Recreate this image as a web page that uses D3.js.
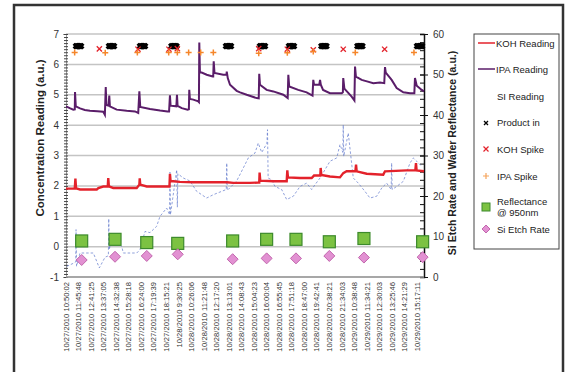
<!DOCTYPE html>
<html>
<head>
<meta charset="utf-8">
<script src="https://cdn.jsdelivr.net/npm/d3@7"></script>
<style>
  body { margin: 0; background: #fff; }
  svg text { font-family: Arial, "Liberation Sans", sans-serif; }
</style>
</head>
<body>
<div id="chart"></div>
<script>
// ─── Daten ────────────────────────────────────────────────────────────────────

const timeLabels = [
  '10/27/2010 10:50:02', '10/27/2010 11:45:48', '10/27/2010 12:41:25',
  '10/27/2010 13:37:05', '10/27/2010 14:32:38', '10/27/2010 15:28:18',
  '10/27/2010 16:24:00', '10/27/2010 17:19:39', '10/27/2010 18:15:21',
  '10/28/2010 9:30:25',  '10/28/2010 10:26:06', '10/28/2010 11:21:48',
  '10/28/2010 12:17:20', '10/28/2010 13:13:01', '10/28/2010 14:08:43',
  '10/28/2010 15:04:23', '10/28/2010 16:00:04', '10/28/2010 16:55:45',
  '10/28/2010 17:51:18', '10/28/2010 18:47:00', '10/28/2010 19:42:41',
  '10/28/2010 20:38:21', '10/28/2010 21:34:03', '10/29/2010 10:38:48',
  '10/29/2010 11:34:21', '10/29/2010 12:30:03', '10/29/2010 13:25:46',
  '10/29/2010 14:21:29', '10/29/2010 15:17:11'
];

// [zeitindex, wert] – Zeitindex in Einheiten der Achsenbeschriftung
const kohReading = [
  [0, 1.91], [0.70, 1.91], [0.75, 2.24], [0.80, 1.92], [1.12, 1.88], [2.45, 1.88],
  [2.58, 1.93], [2.97, 1.98], [3.33, 1.98], [3.37, 2.26], [3.42, 1.98], [3.77, 1.93],
  [5.64, 1.93], [5.85, 2.04], [5.88, 2.25], [5.92, 2.04], [6.44, 1.98], [8.25, 1.98],
  [8.29, 2.40], [8.34, 2.15], [8.56, 2.15], [9.09, 2.13], [10.13, 2.12], [12.84, 2.12],
  [13.34, 2.10], [14.67, 2.10], [15.33, 2.11], [15.41, 2.11], [15.44, 2.44], [15.49, 2.17],
  [16.53, 2.15], [17.60, 2.15], [17.65, 2.51], [17.70, 2.28], [18.66, 2.26], [19.59, 2.26],
  [19.78, 2.34], [20.28, 2.34], [20.31, 2.59], [20.36, 2.36], [21.05, 2.31], [21.85, 2.28],
  [22.11, 2.42], [22.38, 2.48], [23.08, 2.48], [23.13, 2.70], [23.18, 2.48], [23.98, 2.40],
  [25.30, 2.37], [25.44, 2.48], [27.17, 2.51], [27.86, 2.51], [27.91, 2.75], [27.96, 2.51],
  [28.55, 2.48]
];

const ipaReading = [
  [0, 4.62], [0.30, 4.56], [0.58, 4.51], [0.70, 4.52], [0.72, 5.09], [0.78, 4.62],
  [1.12, 4.55], [1.50, 4.50], [1.91, 4.47], [2.50, 4.46], [2.97, 4.44], [3.10, 4.34],
  [3.17, 5.25], [3.22, 4.66], [3.40, 4.64], [3.45, 4.97], [3.50, 4.62], [4.04, 4.51],
  [4.84, 4.47], [5.50, 4.45], [5.76, 4.40], [5.85, 5.11], [5.92, 4.60], [6.70, 4.53],
  [7.50, 4.48], [8.10, 4.45], [8.22, 4.45], [8.29, 4.98], [8.34, 4.64], [8.80, 4.62],
  [8.85, 5.00], [8.90, 4.63], [9.23, 4.56], [9.70, 4.51], [9.80, 4.52], [9.83, 5.16],
  [9.88, 4.86], [10.15, 4.84], [10.55, 4.78], [10.60, 4.76], [10.63, 6.72], [10.68, 5.73],
  [10.82, 5.73], [11.22, 5.66], [11.70, 5.60], [11.74, 5.60], [11.78, 6.10], [11.84, 5.72],
  [12.54, 5.66], [12.80, 5.66], [12.82, 5.76], [12.90, 5.55], [13.08, 5.33], [13.61, 5.13],
  [13.88, 5.08], [14.41, 5.00], [15.21, 4.89], [15.37, 4.88], [15.41, 5.69], [15.47, 5.33],
  [16.00, 5.16], [16.53, 5.11], [17.33, 5.00], [17.68, 4.89], [17.73, 5.66], [17.80, 5.27],
  [18.52, 5.16], [19.19, 5.08], [19.66, 4.97], [19.72, 5.49], [19.78, 5.33], [20.20, 5.33],
  [20.26, 5.49], [20.32, 5.33], [20.50, 5.16], [21.05, 5.05], [21.99, 5.05], [22.08, 5.08],
  [22.11, 5.55], [22.20, 5.20], [22.78, 4.94], [23.00, 4.81], [23.05, 5.93], [23.12, 5.60],
  [23.58, 5.49], [24.00, 5.44], [24.51, 5.38], [25.04, 5.40], [25.38, 5.38], [25.44, 5.91],
  [25.50, 5.73], [25.97, 5.49], [26.37, 5.22], [26.90, 5.08], [27.43, 5.05], [27.78, 5.05],
  [27.83, 5.55], [27.97, 5.30], [28.37, 5.16], [28.55, 5.11]
];

const siReading = [
  [0.06, -0.65], [0.58, -0.55], [0.78, -0.50], [0.80, 0.56], [0.84, -0.65], [1.12, -0.21],
  [2.18, -0.21], [2.66, -0.70], [3.11, -0.35], [3.38, -0.30], [3.41, 0.92], [3.45, -0.10],
  [3.64, 0.30], [4.44, 0.01], [4.57, -0.21], [5.64, -0.21], [5.90, -0.10], [6.30, 0.50],
  [6.70, 0.46], [7.23, 0.67], [7.50, 1.00], [8.03, 1.27], [8.26, 1.05], [8.29, 2.45],
  [8.33, 1.05], [8.83, 2.53], [8.88, 1.30], [8.92, 2.40], [9.35, 2.26], [9.89, 2.16],
  [10.42, 1.82], [11.22, 1.60], [11.75, 1.71], [12.78, 1.88], [12.82, 2.75], [12.86, 1.85],
  [13.61, 2.16], [14.14, 2.59], [14.54, 2.92], [15.07, 3.08], [15.33, 3.41], [15.61, 3.10],
  [16.02, 3.40], [16.07, 3.85], [16.12, 2.26], [16.40, 2.20], [16.67, 1.98], [17.20, 1.88],
  [17.60, 1.55], [18.13, 1.66], [18.66, 1.98], [19.19, 2.09], [19.59, 1.88], [19.86, 2.04],
  [20.26, 2.26], [20.65, 2.53], [21.05, 2.81], [21.59, 2.92], [21.85, 3.36], [22.08, 3.10],
  [22.11, 4.01], [22.15, 2.97], [22.51, 3.74], [22.91, 2.26], [23.31, 2.09], [23.84, 1.82],
  [24.24, 1.60], [24.78, 1.66], [25.18, 1.93], [25.57, 2.09], [25.93, 1.88], [25.97, 2.75],
  [26.01, 1.88], [26.37, 1.98], [26.90, 2.15], [27.43, 2.75], [27.70, 2.92], [27.97, 2.81],
  [28.37, 2.64]
];

const productInTimes = [
  0.80, 0.90, 1.00, 1.10, 1.20,
  3.43, 3.53, 3.63, 3.73, 3.83,
  5.90, 6.00, 6.10, 6.20, 6.30,
  8.41, 8.51, 8.61, 8.71, 8.81,
  12.76, 12.86, 12.96, 13.06, 13.16,
  15.47, 15.57, 15.67, 15.77, 15.87,
  17.78, 17.88, 17.98, 18.08, 18.18,
  20.37, 20.47, 20.57, 20.67, 20.77,
  23.24, 23.34, 23.44, 23.54, 23.64,
  27.99, 28.09, 28.19, 28.29, 28.39
];
const productInLevel = 6.6;

const kohSpikeTimes  = [2.66, 5.74, 8.21, 8.88, 15.37, 17.65, 19.72, 22.11, 25.41];
const kohSpikeLevels = [6.51, 6.50, 6.50, 6.52, 6.52, 6.50, 6.48, 6.50, 6.50];

const ipaSpikeTimes  = [0.69, 3.13, 5.69, 8.19, 8.88, 9.78, 10.74, 11.75, 15.37, 17.65, 19.72, 23.07, 27.75];
const ipaSpikeLevels = [6.39, 6.38, 6.39, 6.39, 6.39, 6.39, 6.39, 6.39, 6.37, 6.38, 6.42, 6.39, 6.39];

const sampleTimes  = [1.25, 3.91, 6.44, 8.91, 13.29, 16.00, 18.34, 21.00, 23.76, 28.44];
const reflectance  = [8.9, 9.3, 8.5, 8.3, 8.9, 9.3, 9.3, 8.7, 9.5, 8.7];
const siEtchRate   = [4.2, 5.0, 5.2, 5.6, 4.4, 4.6, 4.6, 5.2, 4.8, 4.9];

const leftTicks  = [-1, 0, 1, 2, 3, 4, 5, 6, 7];
const rightTicks = [0, 10, 20, 30, 40, 50, 60];

// ─── Aufbau ───────────────────────────────────────────────────────────────────

const W = 568, H = 372;
const plot = { left: 66, right: 424, top: 34, bottom: 277 };

const svg = d3.select('#chart').append('svg')
  .attr('width', W).attr('height', H);

svg.append('rect')
  .attr('x', 14).attr('y', 5).attr('width', 549).attr('height', 380)
  .attr('fill', '#fff').attr('stroke', '#333').attr('stroke-width', 2.5);

const x = d3.scaleLinear().domain([0, 28.55]).range([plot.left, plot.right]);
const yL = d3.scaleLinear().domain([-1, 7]).range([plot.bottom, plot.top]);
const yR = d3.scaleLinear().domain([0, 60]).range([plot.bottom, plot.top]);

// Gitterlinien
svg.append('g').selectAll('line')
  .data(leftTicks)
  .join('line')
  .attr('x1', plot.left).attr('x2', plot.right)
  .attr('y1', d => yL(d)).attr('y2', d => yL(d))
  .attr('stroke', '#c4c4c4').attr('stroke-width', 1.5);

// linke Achse
const leftAxis = svg.append('g')
  .attr('transform', `translate(${plot.left},0)`)
  .call(d3.axisLeft(yL).tickValues(d3.range(-10, 71).map(d => d / 10)).tickSize(3).tickFormat(''));
leftAxis.select('.domain').attr('stroke', '#999');
leftAxis.selectAll('.tick line').attr('stroke', '#444').attr('x2', 2).attr('x1', -2);

svg.append('g').selectAll('text')
  .data(leftTicks)
  .join('text')
  .attr('x', 59).attr('y', d => yL(d) + 3.5)
  .attr('text-anchor', 'end')
  .attr('font-size', 10).attr('fill', '#333')
  .text(d => d);

// rechte Achse
const rightMinor = svg.append('g')
  .attr('transform', `translate(${plot.right},0)`)
  .call(d3.axisLeft(yR).tickValues(d3.range(0, 61, 2)).tickSize(4).tickFormat(''));
rightMinor.select('.domain').attr('stroke', '#111').attr('stroke-width', 1.5);
rightMinor.selectAll('.tick line').attr('stroke', '#111');

const rightAxis = svg.append('g')
  .attr('transform', `translate(${plot.right},0)`)
  .call(d3.axisRight(yR).tickValues(rightTicks).tickSize(4).tickPadding(5));
rightAxis.select('.domain').remove();
rightAxis.selectAll('.tick line').attr('stroke', '#111').attr('x1', -4);
rightAxis.selectAll('.tick text')
  .attr('font-size', 10).attr('fill', '#333')
  .attr('font-family', 'Arial, "Liberation Sans", sans-serif');

// x-Achse
svg.append('line')
  .attr('x1', plot.left).attr('x2', plot.right)
  .attr('y1', plot.bottom).attr('y2', plot.bottom)
  .attr('stroke', '#999').attr('stroke-width', 1.5);

svg.append('g').selectAll('text')
  .data(timeLabels)
  .join('text')
  .attr('transform', (d, i) => `translate(${x(i) + 2.7},${plot.bottom + 5}) rotate(-90)`)
  .attr('text-anchor', 'end')
  .attr('font-size', 7.6).attr('fill', '#333')
  .text(d => d);

// Achsentitel
svg.append('text')
  .attr('transform', `translate(44,${138}) rotate(-90)`)
  .attr('text-anchor', 'middle')
  .attr('font-size', 11.5).attr('font-weight', 'bold').attr('fill', '#222')
  .text('Concentration Reading (a.u.)');

svg.append('text')
  .attr('transform', `translate(456,${153}) rotate(-90)`)
  .attr('text-anchor', 'middle')
  .attr('font-size', 10.5).attr('font-weight', 'bold').attr('fill', '#222')
  .text('Si Etch Rate and Wafer Reflectance (a.u.)');

// ─── Serien ───────────────────────────────────────────────────────────────────

svg.append('clipPath').attr('id', 'clip')
  .append('rect')
  .attr('x', plot.left).attr('y', plot.top - 4)
  .attr('width', plot.right - plot.left + 2).attr('height', plot.bottom - plot.top + 4);

const series = svg.append('g').attr('clip-path', 'url(#clip)');
const line = d3.line().x(d => x(d[0])).y(d => yL(d[1]));

series.append('path')
  .datum(siReading)
  .attr('d', line)
  .attr('fill', 'none').attr('stroke', '#5f78cc').attr('stroke-opacity', 0.7)
  .attr('stroke-width', 1).attr('stroke-dasharray', '2.5,2');

series.append('path')
  .datum(kohReading)
  .attr('d', line)
  .attr('fill', 'none').attr('stroke', '#e3222b').attr('stroke-width', 2.4);

series.append('path')
  .datum(ipaReading)
  .attr('d', line)
  .attr('fill', 'none').attr('stroke', '#5a1d69').attr('stroke-width', 2);

const xMark = (g, cx, cy, s) => g.append('path')
  .attr('d', `M${cx - s},${cy - s}L${cx + s},${cy + s}M${cx - s},${cy + s}L${cx + s},${cy - s}`);
const plusMark = (g, cx, cy, s) => g.append('path')
  .attr('d', `M${cx - s},${cy}L${cx + s},${cy}M${cx},${cy - s}L${cx},${cy + s}`);

const prodG = svg.append('g').attr('stroke', '#000').attr('stroke-width', 3).attr('fill', 'none');
productInTimes.forEach(t => xMark(prodG, x(t), yL(productInLevel), 2.4));

const kohG = svg.append('g').attr('stroke', '#e3222b').attr('stroke-width', 1.3).attr('fill', 'none');
kohSpikeTimes.forEach((t, i) => xMark(kohG, x(t), yL(kohSpikeLevels[i]), 2.6));

const ipaG = svg.append('g').attr('stroke', '#f5862a').attr('stroke-width', 1.5).attr('fill', 'none');
ipaSpikeTimes.forEach((t, i) => plusMark(ipaG, x(t), yL(ipaSpikeLevels[i]), 3));

svg.append('g').selectAll('rect')
  .data(sampleTimes)
  .join('rect')
  .attr('x', d => x(d) - 6).attr('y', (d, i) => yR(reflectance[i]) - 6)
  .attr('width', 12).attr('height', 12)
  .attr('fill', '#7cc242').attr('stroke', '#3d8a2c').attr('stroke-width', 1.2);

svg.append('g').selectAll('path')
  .data(sampleTimes)
  .join('path')
  .attr('d', (d, i) => {
    const cx = x(d), cy = yR(siEtchRate[i]);
    return `M${cx},${cy - 5.5}L${cx + 5.5},${cy}L${cx},${cy + 5.5}L${cx - 5.5},${cy}Z`;
  })
  .attr('fill', '#e291d2').attr('stroke', '#c266ad').attr('stroke-width', 1);

// ─── Legende ──────────────────────────────────────────────────────────────────

const lg = svg.append('g');
lg.append('rect')
  .attr('x', 474).attr('y', 34).attr('width', 85).attr('height', 215)
  .attr('fill', '#fff').attr('stroke', '#444').attr('stroke-width', 1);

const legendRows = [
  { label: ['KOH Reading'], y: 43 },
  { label: ['IPA Reading'], y: 69 },
  { label: ['SI Reading'], y: 96 },
  { label: ['Product in'], y: 122 },
  { label: ['KOH Spike'], y: 149 },
  { label: ['IPA Spike'], y: 176 },
  { label: ['Reflectance', '@ 950nm'], y: 207 },
  { label: ['Si Etch Rate'], y: 229 }
];

legendRows.forEach(r => {
  const t = lg.append('text')
    .attr('font-size', 9.5).attr('fill', '#222')
    .attr('x', r.label[0] === 'KOH Reading' || r.label[0] === 'IPA Reading' ? 496 : 497)
    .attr('y', r.y - (r.label.length - 1) * 5.5 + 3.5);
  r.label.forEach((s, i) => t.append('tspan')
    .attr('x', t.attr('x')).attr('dy', i === 0 ? 0 : 10.5).text(s));
});

lg.append('line').attr('x1', 478).attr('x2', 495).attr('y1', 43).attr('y2', 43)
  .attr('stroke', '#e3222b').attr('stroke-width', 1.5);
lg.append('line').attr('x1', 478).attr('x2', 495).attr('y1', 69).attr('y2', 69)
  .attr('stroke', '#5a1d69').attr('stroke-width', 1.5);
xMark(lg.append('g').attr('stroke', '#000').attr('stroke-width', 1.3), 486, 123, 2);
xMark(lg.append('g').attr('stroke', '#e3222b').attr('stroke-width', 1.2), 486, 149, 2.5);
plusMark(lg.append('g').attr('stroke', '#f5a35a').attr('stroke-width', 1.2), 486, 176, 3);
lg.append('rect').attr('x', 482).attr('y', 203).attr('width', 8).attr('height', 8)
  .attr('fill', '#7cc242').attr('stroke', '#3d8a2c');
lg.append('path').attr('d', 'M486,225L490,229L486,233L482,229Z')
  .attr('fill', '#e291d2').attr('stroke', '#c266ad');
</script>
</body>
</html>
